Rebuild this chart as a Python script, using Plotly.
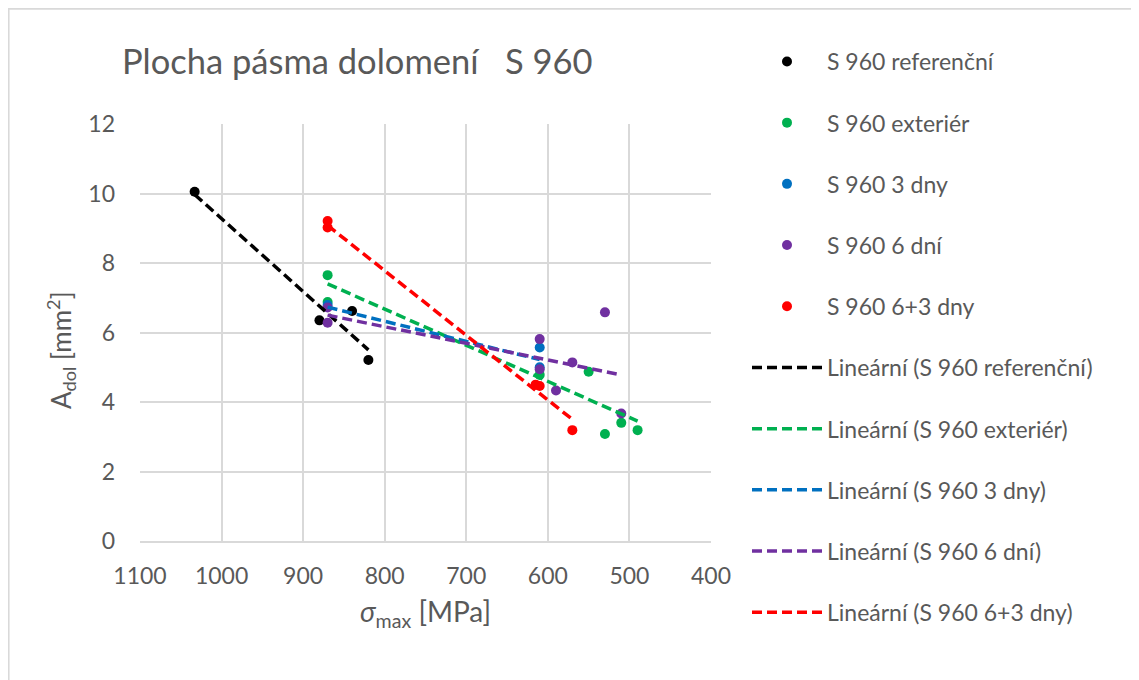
import plotly.graph_objects as go

# ---- data ----
ref_x = [1033, 880, 840, 820]
ref_y = [10.05, 6.35, 6.62, 5.21]

ext_x = [870, 870, 610, 550, 530, 510, 490]
ext_y = [7.65, 6.88, 4.78, 4.87, 3.08, 3.40, 3.19]

d3_x = [870, 610, 610]
d3_y = [6.79, 5.57, 5.00]

d6_x = [870, 870, 610, 610, 590, 570, 530, 510]
d6_y = [6.72, 6.28, 5.81, 4.94, 4.33, 5.14, 6.58, 3.67]

d63_x = [870, 870, 615, 610, 570]
d63_y = [9.21, 9.02, 4.50, 4.46, 3.19]

# linear trend lines (end points)
ref_tx, ref_ty = [1033, 820], [9.97, 5.50]
ext_tx, ext_ty = [870, 490], [7.40, 3.45]
d3_tx, d3_ty = [870, 610], [6.73, 5.22]
d6_tx, d6_ty = [870, 510], [6.50, 4.78]
d63_tx, d63_ty = [870, 570], [9.08, 3.50]

names = ["S 960 referenční", "S 960 exteriér", "S 960 3 dny", "S 960 6 dní", "S 960 6+3 dny"]
colors = ["#000000", "#00b050", "#0070c0", "#7030a0", "#ff0000"]
x_tick_vals = [1100, 1000, 900, 800, 700, 600, 500, 400]
y_tick_vals = [0, 2, 4, 6, 8, 10, 12]

points = [(ref_x, ref_y), (ext_x, ext_y), (d3_x, d3_y), (d6_x, d6_y), (d63_x, d63_y)]
trends = [(ref_tx, ref_ty), (ext_tx, ext_ty), (d3_tx, d3_ty), (d6_tx, d6_ty), (d63_tx, d63_ty)]

FONT = "Lato, sans-serif"
GRAY = "#595959"

fig = go.Figure()
g = 0
for (xs, ys), name, c in zip(points, names, colors):
    fig.add_trace(go.Scatter(x=xs, y=ys, mode="markers", name=name,
                             marker=dict(color=c, size=10),
                             legendgroup="g%d" % g))
    g += 1
for (xs, ys), name, c in zip(trends, names, colors):
    fig.add_trace(go.Scatter(x=xs, y=ys, mode="lines", name="Lineární (%s)" % name,
                             line=dict(color=c, width=3.5, dash="10px,5px"),
                             legendgroup="g%d" % g))
    g += 1

OFF = 8  # page body margin
W, H = 1139, 680
L, T = 140 - OFF, 124 - OFF
R, B = W - (711 - OFF), H - (541 - OFF)
pw, ph = W - L - R, H - T - B

def px_x(p):  # page pixel -> paper x
    return (p - OFF - L) / pw

def px_y(p):  # page pixel -> paper y
    return (H - B - (p - OFF)) / ph

fig.update_layout(
    width=W, height=H,
    margin=dict(l=L, r=R, t=T, b=B),
    paper_bgcolor="white", plot_bgcolor="white",
    font=dict(family=FONT, color=GRAY, size=20),
    title=dict(text="Plocha pásma dolomení\u00a0\u00a0\u00a0S 960",
               x=(122 - OFF) / W, xanchor="left",
               y=1 - (62 - OFF) / H, yanchor="middle",
               font=dict(size=34.5, color=GRAY, family=FONT)),
    showlegend=True,
    legend=dict(x=px_x(747), xanchor="left", y=px_y(40), yanchor="top",
                traceorder="grouped", tracegroupgap=28.3,
                itemwidth=70, maxheight=680,
                font=dict(size=23, color=GRAY, family=FONT),
                bgcolor="rgba(0,0,0,0)"),
    xaxis=dict(range=[1100, 400], tickvals=x_tick_vals, showgrid=True,
               gridcolor="#d9d9d9", gridwidth=1.5, zeroline=False,
               showline=True, linecolor="#d9d9d9", linewidth=1.5,
               tickfont=dict(size=23, color=GRAY, family=FONT),
               ticklabelstandoff=14,
               title=dict(text="<i>σ</i><sub>max</sub> [MPa]", standoff=14,
                          font=dict(size=28, color=GRAY, family=FONT))),
    yaxis=dict(range=[0, 12], tickvals=y_tick_vals, showgrid=True,
               gridcolor="#d9d9d9", gridwidth=1.5, zeroline=False,
               showline=False,
               tickfont=dict(size=23, color=GRAY, family=FONT),
               ticklabelstandoff=24),
)

# y-axis title placed like in the original
fig.add_annotation(text="A<sub>dol</sub> [mm<sup>2</sup>]", textangle=-90,
                   xref="paper", yref="paper", x=px_x(61), y=px_y(350),
                   xanchor="center", yanchor="middle", showarrow=False,
                   font=dict(size=26, color=GRAY, family=FONT))

# chart-area border (as in the original)
fig.add_shape(type="rect", xref="paper", yref="paper",
              x0=-L / pw + 0.001, x1=px_x(1200), y0=px_y(8.7), y1=px_y(760),
              line=dict(color="#d9d9d9", width=2), fillcolor="rgba(0,0,0,0)",
              layer="below")

fig.write_html("out.html")
